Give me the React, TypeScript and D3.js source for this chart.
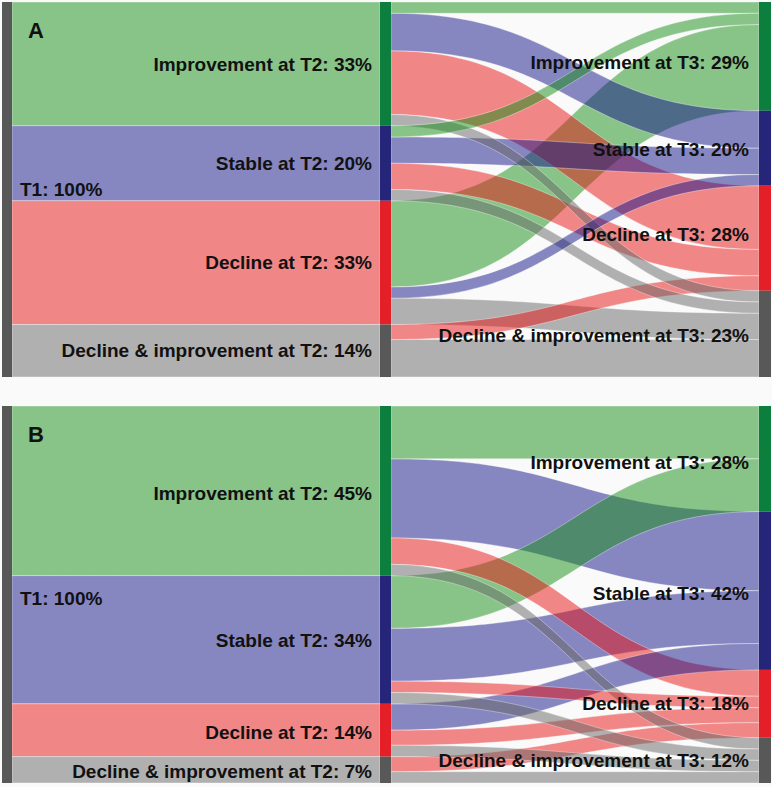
import React from "react";
import * as d3 from "d3";

const categories = ["Improvement", "Stable", "Decline", "Decline & improvement"];
const t2PctA = [33, 20, 33, 14];
const t3PctA = [29, 20, 28, 23];
const t2PctB = [45, 34, 14, 7];
const t3PctB = [28, 42, 18, 12];
// flows[source T2][target T3], percent of total
const flowsA = [
  [3, 10, 17, 3],
  [3, 7, 7, 3],
  [23, 3, 0, 7],
  [0, 0, 4, 10],
];
const flowsB = [
  [14, 21, 7, 3],
  [14, 14, 3, 3],
  [0, 7, 4, 3],
  [0, 0, 4, 3],
];

// label vertical nudges (px), layout only
const nudgeA = { t1: 0, t2: [0, 0, 0, 0], t3: [6, 1, -4, 1] };
const nudgeB = { t1: 4, t2: [3, 1, 2, 2], t3: [4, 3, 0, 0] };

const nodeColors = ["#0c7e3e", "#25257a", "#e51f27", "#585858"];
const linkColors = ["#168e16", "#121288", "#e61212", "#666666"];
const LINK_OPACITY = 0.5;
const FONT = "'Liberation Sans', Arial, Helvetica, sans-serif";

function ribbon(x0: number, s0: number, s1: number, x1: number, t0: number, t1: number) {
  const xm = (x0 + x1) / 2;
  const p = d3.path();
  p.moveTo(x0, s0);
  p.bezierCurveTo(xm, s0, xm, t0, x1, t0);
  p.lineTo(x1, t1);
  p.bezierCurveTo(xm, t1, xm, s1, x0, s1);
  p.closePath();
  return p.toString();
}

type PanelProps = {
  letter: string;
  top: number;
  bottom: number;
  t2Pct: number[];
  t3Pct: number[];
  flows: number[][];
  nudge: { t1: number; t2: number[]; t3: number[] };
};

function Panel({ letter, top, bottom, t2Pct, t3Pct, flows, nudge }: PanelProps) {
  const y = d3.scaleLinear().domain([0, 100]).range([top, bottom]);
  const x = d3.scaleLinear().domain([0, 2]).range([2, 759]);
  const x1L = x(0), x1R = x(0) + 10;
  const x2L = 380, x2R = 391;
  const x3L = x(2), x3R = x(2) + 12;

  const t2Tot = flows.map((r) => d3.sum(r));
  const t3Tot = categories.map((_, j) => d3.sum(flows, (r) => r[j]));
  const t2Start = t2Tot.map((_, i) => d3.sum(t2Tot.slice(0, i)));
  const t3Start = t3Tot.map((_, j) => d3.sum(t3Tot.slice(0, j)));

  const links: { d: string; c: number; key: string }[] = [];
  // T1 -> T2
  t2Tot.forEach((v, i) => {
    links.push({
      key: `a${i}`,
      c: i,
      d: ribbon(x1R, y(t2Start[i]), y(t2Start[i] + v), x2L, y(t2Start[i]), y(t2Start[i] + v)),
    });
  });
  // T2 -> T3
  const srcOff = [...t2Start];
  const tgtOff = [...t3Start];
  const segs: { i: number; j: number; v: number; s0: number; s1: number; t0: number; t1: number }[] = [];
  flows.forEach((row, i) => {
    row.forEach((v, j) => {
      if (v <= 0) return;
      segs.push({ i, j, v, s0: srcOff[i], s1: srcOff[i] + v, t0: 0, t1: 0 });
      srcOff[i] += v;
    });
  });
  for (let i = 0; i < flows.length; i++) {
    segs
      .filter((s) => s.i === i)
      .forEach((s) => {
        s.t0 = tgtOff[s.j];
        s.t1 = tgtOff[s.j] + s.v;
        tgtOff[s.j] = s.t1;
      });
  }
  // larger flows drawn first, smaller on top
  [...segs]
    .sort((a, b) => b.v - a.v)
    .forEach((s) => {
      links.push({
        key: `b${s.i}${s.j}`,
        c: s.j,
        d: ribbon(x2R, y(s.s0), y(s.s1), x3L, y(s.t0), y(s.t1)),
      });
    });

  return (
    <g>
      {links.map((l) => (
        <path key={l.key} d={l.d} fill={linkColors[l.c]} fillOpacity={LINK_OPACITY} stroke="#ffffff" strokeOpacity={0.6} strokeWidth={0.6} />
      ))}
      <rect x={x1L} y={y(0)} width={x1R - x1L} height={y(100) - y(0)} fill="#585858" />
      {t2Tot.map((v, i) => (
        <rect key={`n2${i}`} x={x2L} y={y(t2Start[i])} width={x2R - x2L} height={y(t2Start[i] + v) - y(t2Start[i])} fill={nodeColors[i]} />
      ))}
      {t3Tot.map((v, j) => (
        <rect key={`n3${j}`} x={x3L} y={y(t3Start[j])} width={x3R - x3L} height={y(t3Start[j] + v) - y(t3Start[j])} fill={nodeColors[j]} />
      ))}
      <g fontFamily={FONT} fontWeight="bold" fontSize={19} fill="#111">
        <text x={20} y={y(50) + nudge.t1} dy="0.35em">T1: 100%</text>
        {t2Tot.map((v, i) => (
          <text key={`l2${i}`} x={372} y={y(t2Start[i] + v / 2) + nudge.t2[i]} dy="0.35em" textAnchor="end">
            {`${categories[i]} at T2: ${t2Pct[i]}%`}
          </text>
        ))}
        {t3Tot.map((v, j) => (
          <text key={`l3${j}`} x={749} y={y(t3Start[j] + v / 2) + nudge.t3[j]} dy="0.35em" textAnchor="end">
            {`${categories[j]} at T3: ${t3Pct[j]}%`}
          </text>
        ))}
        <text x={28} y={top + 36} fontSize={22}>{letter}</text>
      </g>
    </g>
  );
}

export default function App() {
  return (
    <svg width={772} height={787} style={{ position: "absolute", left: 0, top: 0, display: "block" }}>
      <rect x={0} y={0} width={772} height={787} fill="#fafafa" />
      <Panel letter="A" top={2} bottom={377} t2Pct={t2PctA} t3Pct={t3PctA} flows={flowsA} nudge={nudgeA} />
      <Panel letter="B" top={406} bottom={783} t2Pct={t2PctB} t3Pct={t3PctB} flows={flowsB} nudge={nudgeB} />
    </svg>
  );
}
